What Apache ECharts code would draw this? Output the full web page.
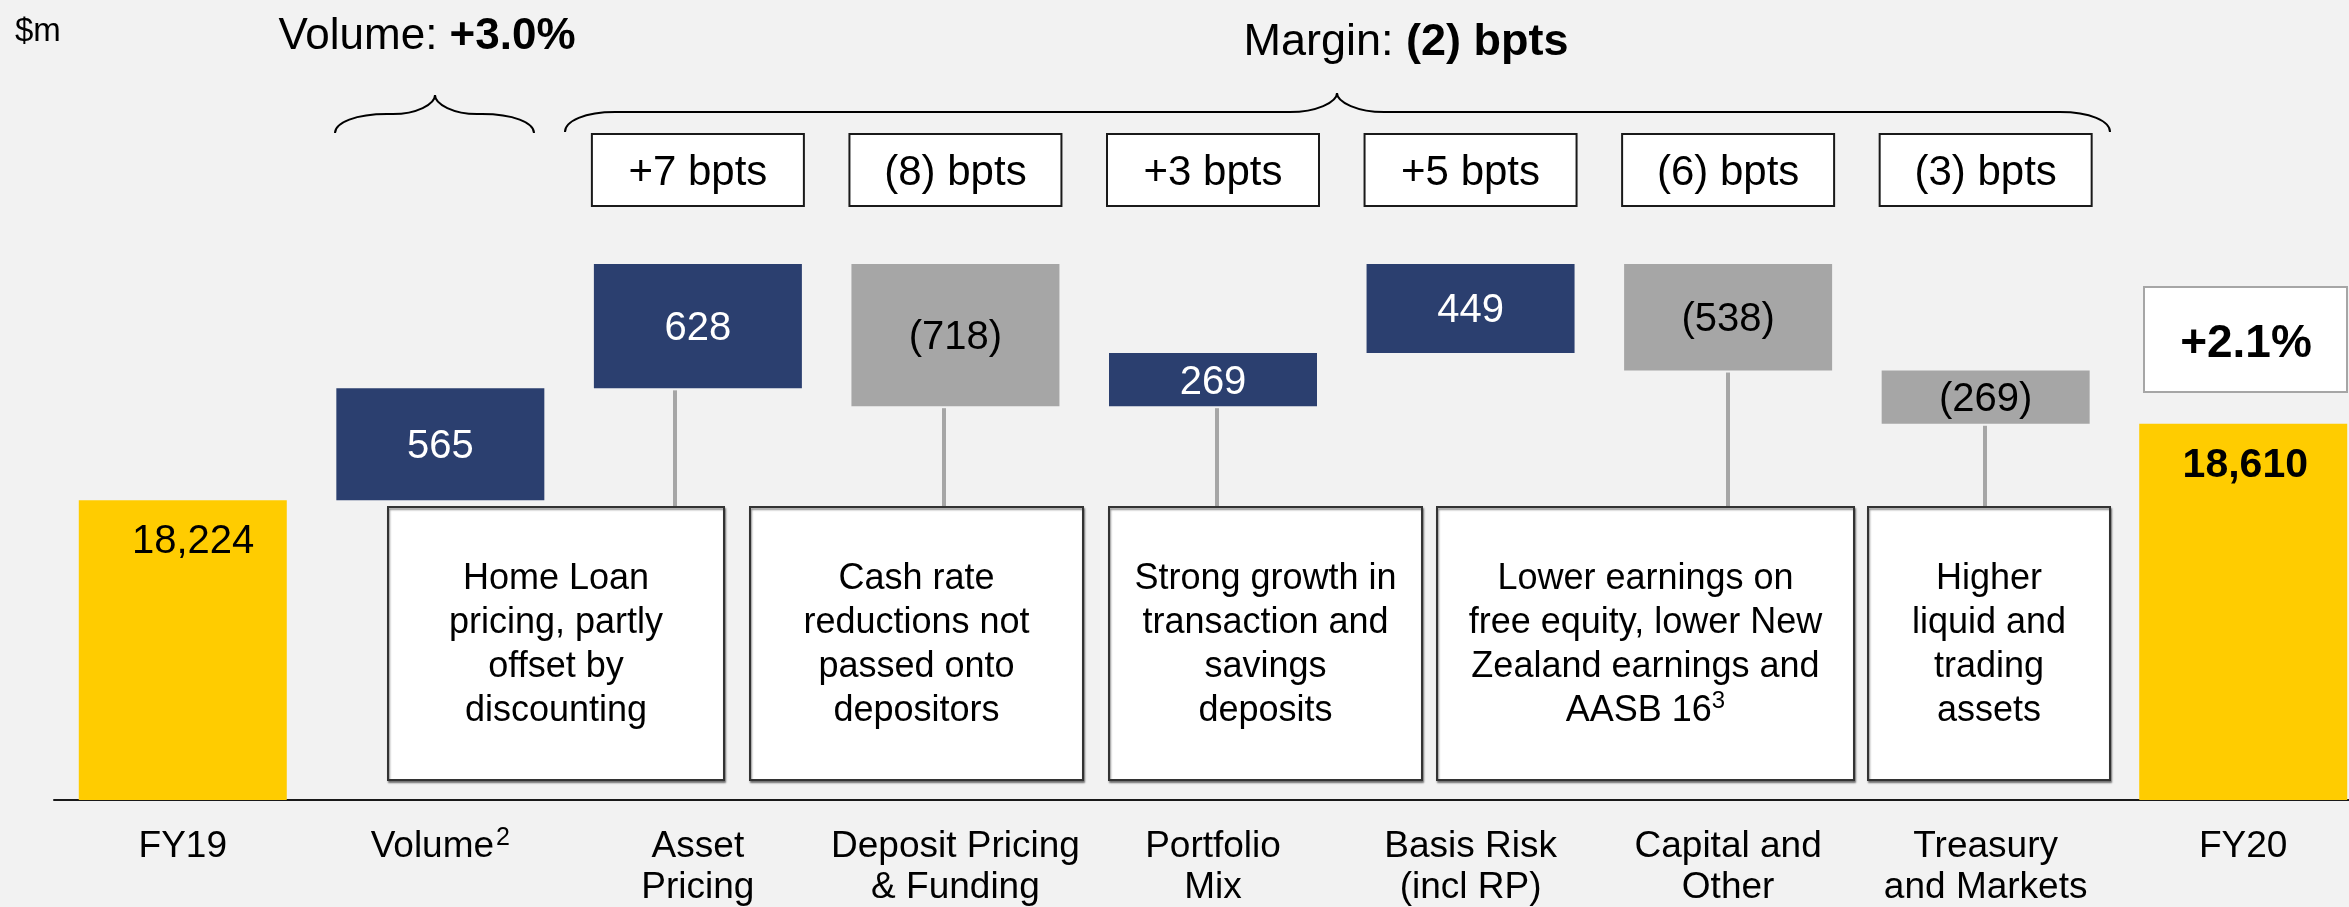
<!DOCTYPE html>
<html><head><meta charset="utf-8">
<script src="https://cdn.jsdelivr.net/npm/echarts@6/dist/echarts.min.js"></script>
<style>html,body{margin:0;padding:0;background:#f2f2f2;} #c{width:2349px;height:907px;}</style>
</head><body><div id="c"></div>
<script>
// ---------------- data ----------------
const categories = ['FY19', 'Volume', 'Asset\nPricing', 'Deposit Pricing\n& Funding', 'Portfolio\nMix',
  'Basis Risk\n(incl RP)', 'Capital and\nOther', 'Treasury\nand Markets', 'FY20'];
const values = [18224, 565, 628, -718, 269, 449, -538, -269, 18610];
const isTotal = [true, false, false, false, false, false, false, false, true];
const bptsLabels = [null, null, '+7 bpts', '(8) bpts', '+3 bpts', '+5 bpts', '(6) bpts', '(3) bpts', null];
const volumeNote = ['Volume: ', '+3.0%'];
const marginNote = ['Margin: ', '(2) bpts'];
const growthNote = '+2.1%';
const unitLabel = '$m';
const commentary = [
  'Home Loan\npricing, partly\noffset by\ndiscounting',
  'Cash rate\nreductions not\npassed onto\ndepositors',
  'Strong growth in\ntransaction and\nsavings\ndeposits',
  'Lower earnings on\nfree equity, lower New\nZealand earnings and\nAASB 16{s|3}',
  'Higher\nliquid and\ntrading\nassets'
];

// ---------------- styles / layout ----------------
const FONT = '"Liberation Sans", Arial, Helvetica, sans-serif';
const BLUE = '#2b3f6f', GREY = '#a6a6a6', GOLD = '#ffcc00', BG = '#f2f2f2';
const totalLabelX = ['55%', '51%'];

// waterfall construction
let running = 0, totalCount = 0;
const baseData = [], barData = [], barBottom = [];
values.forEach((v, i) => {
  if (isTotal[i]) {
    const last = i === values.length - 1;
    baseData.push(0);
    running = v;
    barBottom.push(null);
    barData.push({
      value: v,
      itemStyle: { color: GOLD },
      label: {
        show: true, position: [totalLabelX[totalCount++], 42], align: 'center', verticalAlign: 'middle',
        color: '#000', fontSize: last ? 41 : 40,
        fontWeight: last ? 'bold' : 'normal', fontFamily: FONT,
        formatter: v.toLocaleString('en-US')
      }
    });
  } else {
    const s = running, e = running + v;
    baseData.push(Math.min(s, e));
    barBottom.push(Math.min(s, e));
    running = e;
    barData.push({
      value: Math.abs(v),
      itemStyle: { color: v >= 0 ? BLUE : GREY },
      label: {
        show: true, position: 'inside', offset: [0, 3], color: v >= 0 ? '#fff' : '#000',
        fontSize: 40, fontFamily: FONT,
        formatter: v >= 0 ? String(v) : '(' + Math.abs(v) + ')'
      }
    });
  }
});

const chart = echarts.init(document.getElementById('c'), null, { renderer: 'canvas' });
chart.setOption({
  backgroundColor: BG,
  animation: false,
  grid: { left: 54, width: 2318, top: 8, bottom: 107, containLabel: false, outerBoundsMode: 'none' },
  xAxis: {
    type: 'category', data: categories,
    axisLine: { show: true, lineStyle: { color: '#1a1a1a', width: 2 } },
    axisTick: { show: false },
    axisLabel: {
      interval: 0, margin: 26, verticalAlign: 'top', color: '#000',
      fontSize: 37, lineHeight: 41, fontFamily: FONT,
      formatter: (val) => val === 'Volume' ? '{a|Volume}{s|2}' : val,
      rich: {
        a: { fontSize: 37, lineHeight: 41, fontFamily: FONT, color: '#000' },
        s: { fontSize: 25, lineHeight: 28, verticalAlign: 'top', fontFamily: FONT, color: '#000', padding: [0, 0, 0, 2] }
      }
    }
  },
  yAxis: { type: 'value', min: 16710, max: 20710, show: false, splitLine: { show: false } },
  series: [
    { type: 'bar', stack: 'w', data: baseData, barWidth: 208, itemStyle: { color: 'rgba(0,0,0,0)' }, silent: true },
    { type: 'bar', stack: 'w', data: barData, barWidth: 208 }
  ]
});

// ---------------- annotations ----------------
const cx = (i) => chart.convertToPixel({ xAxisIndex: 0 }, i);
const py = (v) => chart.convertToPixel({ yAxisIndex: 0 }, v);
const g = [];

function text(x, y, t, opts) {
  g.push({ type: 'text', z: 20, style: Object.assign({ x, y, text: t, fill: '#000', fontFamily: FONT,
    align: 'center', verticalAlign: 'middle' }, opts) });
}

// unit
text(15, 32, unitLabel, { align: 'left', fontSize: 33 });
// headers
text(427, 37, '{r|' + volumeNote[0] + '}{b|' + volumeNote[1] + '}', {
  rich: { r: { fontSize: 44, fontFamily: FONT, fill: '#000' }, b: { fontSize: 44, fontWeight: 'bold', fontFamily: FONT, fill: '#000' } }
});
text(1406, 43, '{r|' + marginNote[0] + '}{b|' + marginNote[1] + '}', {
  rich: { r: { fontSize: 45, fontFamily: FONT, fill: '#000' }, b: { fontSize: 45, fontWeight: 'bold', fontFamily: FONT, fill: '#000' } }
});

// braces
const braceStyle = { fill: null, stroke: '#000', lineWidth: 2 };
function bez(x1, y1, cpx1, cpy1, cpx2, cpy2, x2, y2) {
  g.push({ type: 'bezierCurve', z: 20, shape: { x1, y1, cpx1, cpy1, cpx2, cpy2, x2, y2 }, style: braceStyle });
}
function seg(x1, y1, x2, y2) {
  g.push({ type: 'line', z: 20, shape: { x1, y1, x2, y2 }, style: braceStyle });
}
function brace(x0, x1, xp, yEnd, yH, yPeak, rEnd, rPeak) {
  bez(x0, yEnd, x0, yH + (yEnd - yH) * 0.45, x0 + rEnd * 0.4, yH, x0 + rEnd, yH);
  if (xp - rPeak > x0 + rEnd) seg(x0 + rEnd, yH, xp - rPeak, yH);
  bez(xp - rPeak, yH, xp - rPeak * 0.45, yH, xp, yH - (yH - yPeak) * 0.5, xp, yPeak);
  bez(xp, yPeak, xp, yH - (yH - yPeak) * 0.5, xp + rPeak * 0.45, yH, xp + rPeak, yH);
  if (x1 - rEnd > xp + rPeak) seg(xp + rPeak, yH, x1 - rEnd, yH);
  bez(x1 - rEnd, yH, x1 - rEnd * 0.4, yH, x1, yH + (yEnd - yH) * 0.45, x1, yEnd);
}
brace(335, 534, 435, 133, 114, 95, 52, 42);
brace(565, 2110, 1337, 132, 112, 93, 50, 47);

// bpts boxes
bptsLabels.forEach((t, i) => {
  if (!t) return;
  const c = cx(i);
  g.push({ type: 'rect', z: 15, shape: { x: c - 106, y: 134, width: 212, height: 72 },
    style: { fill: '#fff', stroke: '#1a1a1a', lineWidth: 2 } });
  text(c, 173, t, { fontSize: 42 });
});

// connectors (from bar bottom down to commentary box)
const connectors = [[2, -23], [3, -11], [4, 4], [6, 0], [7, -1]];
connectors.forEach(([i, dx]) => {
  const x = Math.round(cx(i) + dx);
  g.push({ type: 'line', z: 5, shape: { x1: x, y1: py(barBottom[i]) + 2, x2: x, y2: 507 },
    style: { stroke: GREY, lineWidth: 4 } });
});

// commentary boxes
const boxX = [[388, 724], [750, 1083], [1109, 1422], [1437, 1854], [1868, 2110]];
commentary.forEach((t, k) => {
  const [a, b] = boxX[k];
  g.push({ type: 'rect', z: 10, shape: { x: a, y: 507, width: b - a, height: 273 },
    style: { fill: '#fff', stroke: '#333', lineWidth: 2, shadowBlur: 2, shadowOffsetX: 1, shadowOffsetY: 2, shadowColor: 'rgba(0,0,0,0.45)' } });
  text((a + b) / 2, 645, t, { fontSize: 36, lineHeight: 44,
    rich: { s: { fontSize: 24, lineHeight: 28, verticalAlign: 'top', fontFamily: FONT, fill: '#000' } } });
});

// growth box
g.push({ type: 'rect', z: 10, shape: { x: 2144, y: 287, width: 203, height: 105 },
  style: { fill: '#fff', stroke: GREY, lineWidth: 2 } });
text(2246, 344, growthNote, { fontSize: 46, fontWeight: 'bold' });

chart.setOption({ graphic: g });
</script>
</body></html>
